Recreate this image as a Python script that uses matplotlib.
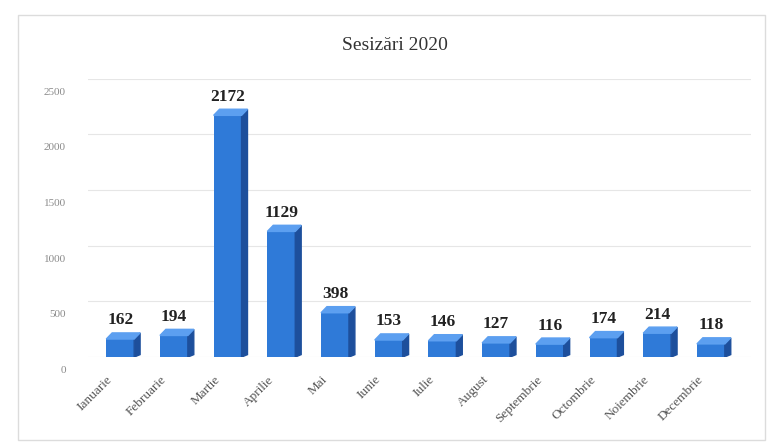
import matplotlib.pyplot as plt
import matplotlib.transforms as mtransforms
from matplotlib.patches import Polygon, Rectangle

months = ["Ianuarie", "Februarie", "Martie", "Aprilie", "Mai", "Iunie", "Iulie",
          "August", "Septembrie", "Octombrie", "Noiembrie", "Decembrie"]
counts = [162, 194, 2172, 1129, 398, 153, 146, 127, 116, 174, 214, 118]
yticks = [0, 500, 1000, 1500, 2000, 2500]

plt.rcParams["font.family"] = ["Liberation Serif", "DejaVu Serif"]

fig = plt.figure(figsize=(7.72, 4.43), dpi=100)
fig.patches.append(Rectangle((0.023, 0.007), 0.968, 0.959, transform=fig.transFigure,
                             fill=False, edgecolor="#dcdcdc", lw=1))
ax = fig.add_axes([0.114, 0.194, 0.859, 0.628])

front = "#2f7ad8"
side = "#1d4f9c"
top = "#5c9ff0"
w = 0.52
dx = 0.11   # depth in category units
dy = 55     # depth in data units

x = list(range(len(months)))
ax.bar(x, counts, width=w, color=front, zorder=3)
for xi, v in zip(x, counts):
    r = xi + w / 2
    l = xi - w / 2
    ax.add_patch(Polygon([(r, 0), (r + dx, dy * 0.4), (r + dx, v + dy), (r, v)],
                         closed=True, color=side, zorder=3))
    ax.add_patch(Polygon([(l, v), (l + dx, v + dy), (r + dx, v + dy), (r, v)],
                         closed=True, color=top, zorder=3))
    ax.text(xi, v + dy + 40, str(v), ha="center", va="bottom",
            fontsize=12.5, fontweight="bold", color="#222222", zorder=4)

ax.set_xlim(-0.6, 11.75)
ax.set_ylim(0, 2500)
ax.set_yticks(yticks)
ax.set_yticklabels([str(t) for t in yticks], fontsize=8, color="#8a8a8a")
ax.yaxis.grid(True, color="#e6e6e6", lw=0.8, zorder=0)
ax.set_axisbelow(True)
ax.tick_params(axis="both", length=0)
ax.tick_params(axis="y", pad=16)
off = mtransforms.ScaledTranslation(0, -9 / 72, fig.dpi_scale_trans)
for lab in ax.get_yticklabels():
    lab.set_transform(lab.get_transform() + off)

ax.set_xticks(x)
ax.set_xticklabels(months, rotation=45, ha="right", rotation_mode="anchor",
                   fontsize=9.5, color="#555555")
ax.tick_params(axis="x", pad=12)
xoff = mtransforms.ScaledTranslation(-10 / 72, 0, fig.dpi_scale_trans)
for lab in ax.get_xticklabels():
    lab.set_transform(lab.get_transform() + xoff)
for s in ax.spines.values():
    s.set_visible(False)

fig.text(0.512, 0.898, "Sesizări 2020", ha="center", va="center", fontsize=14,
         color="#333333")

fig.savefig("out.png", dpi=100)
